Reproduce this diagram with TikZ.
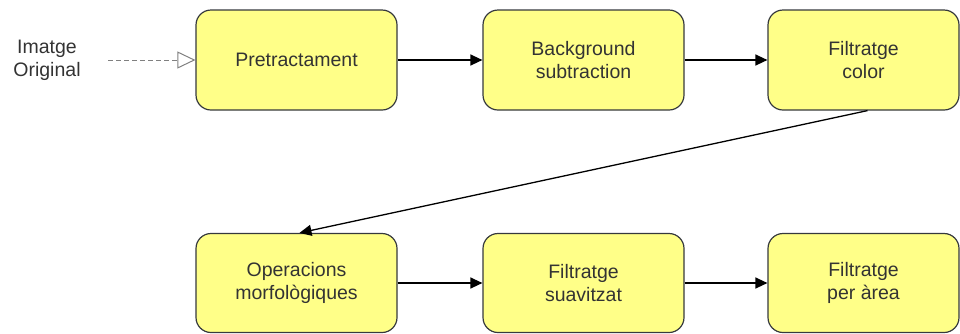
\documentclass[tikz,border=0pt]{standalone}
\usepackage{fontspec}
\setmainfont{Liberation Sans}
\usetikzlibrary{arrows.meta}
\definecolor{boxfill}{HTML}{FFFF88}
\definecolor{boxline}{HTML}{36393D}
\definecolor{txt}{HTML}{333333}
\begin{document}
\begin{tikzpicture}[x=1pt,y=-1pt,
  stepbox/.style={draw=boxline, line width=1.2pt, fill=boxfill, rounded corners=15pt,
    minimum width=201pt, minimum height=100pt, inner sep=0pt, align=center,
    font=\fontsize{19.5}{23}\selectfont, text=txt},
  conn/.style={draw=black, line width=1.3pt, -{Triangle[length=12pt,width=11pt]}},
]
\useasboundingbox (0,0) rectangle (960,333);
\node[stepbox] (pre) at (296.5,60) {Pretractament};
\node[stepbox] (bg) at (583.5,60) {Background\\subtraction};
\node[stepbox, minimum width=191pt] (fc) at (863.5,60) {Filtratge\\color};
\node[stepbox, minimum height=99pt] (om) at (296.5,283) {Operacions\\morfològiques};
\node[stepbox, minimum height=99pt] (fs) at (583.5,283) {Filtratge\\suavitzat};
\node[stepbox, minimum width=191pt, minimum height=99pt] (fa) at (863.5,283) {Filtratge\\per àrea};
\node[font=\fontsize{19.5}{23}\selectfont, text=txt, align=center] (img) at (47,60) {Imatge\\Original};
\coordinate (ds) at (108,60);
\coordinate (fcs) at ([xshift=4pt]fc.south);
\coordinate (omn) at ([xshift=3pt]om.north);
\draw[draw=gray, line width=1pt, dash pattern=on 5pt off 3pt,
  -{Triangle[open, length=18pt, width=17pt, line width=1pt]}] (ds) -- (pre.west);
\draw[conn] (pre) -- (bg);
\draw[conn] (bg) -- (fc);
\draw[conn] (fcs) -- (omn);
\draw[conn] (om) -- (fs);
\draw[conn] (fs) -- (fa);
\end{tikzpicture}
\end{document}
